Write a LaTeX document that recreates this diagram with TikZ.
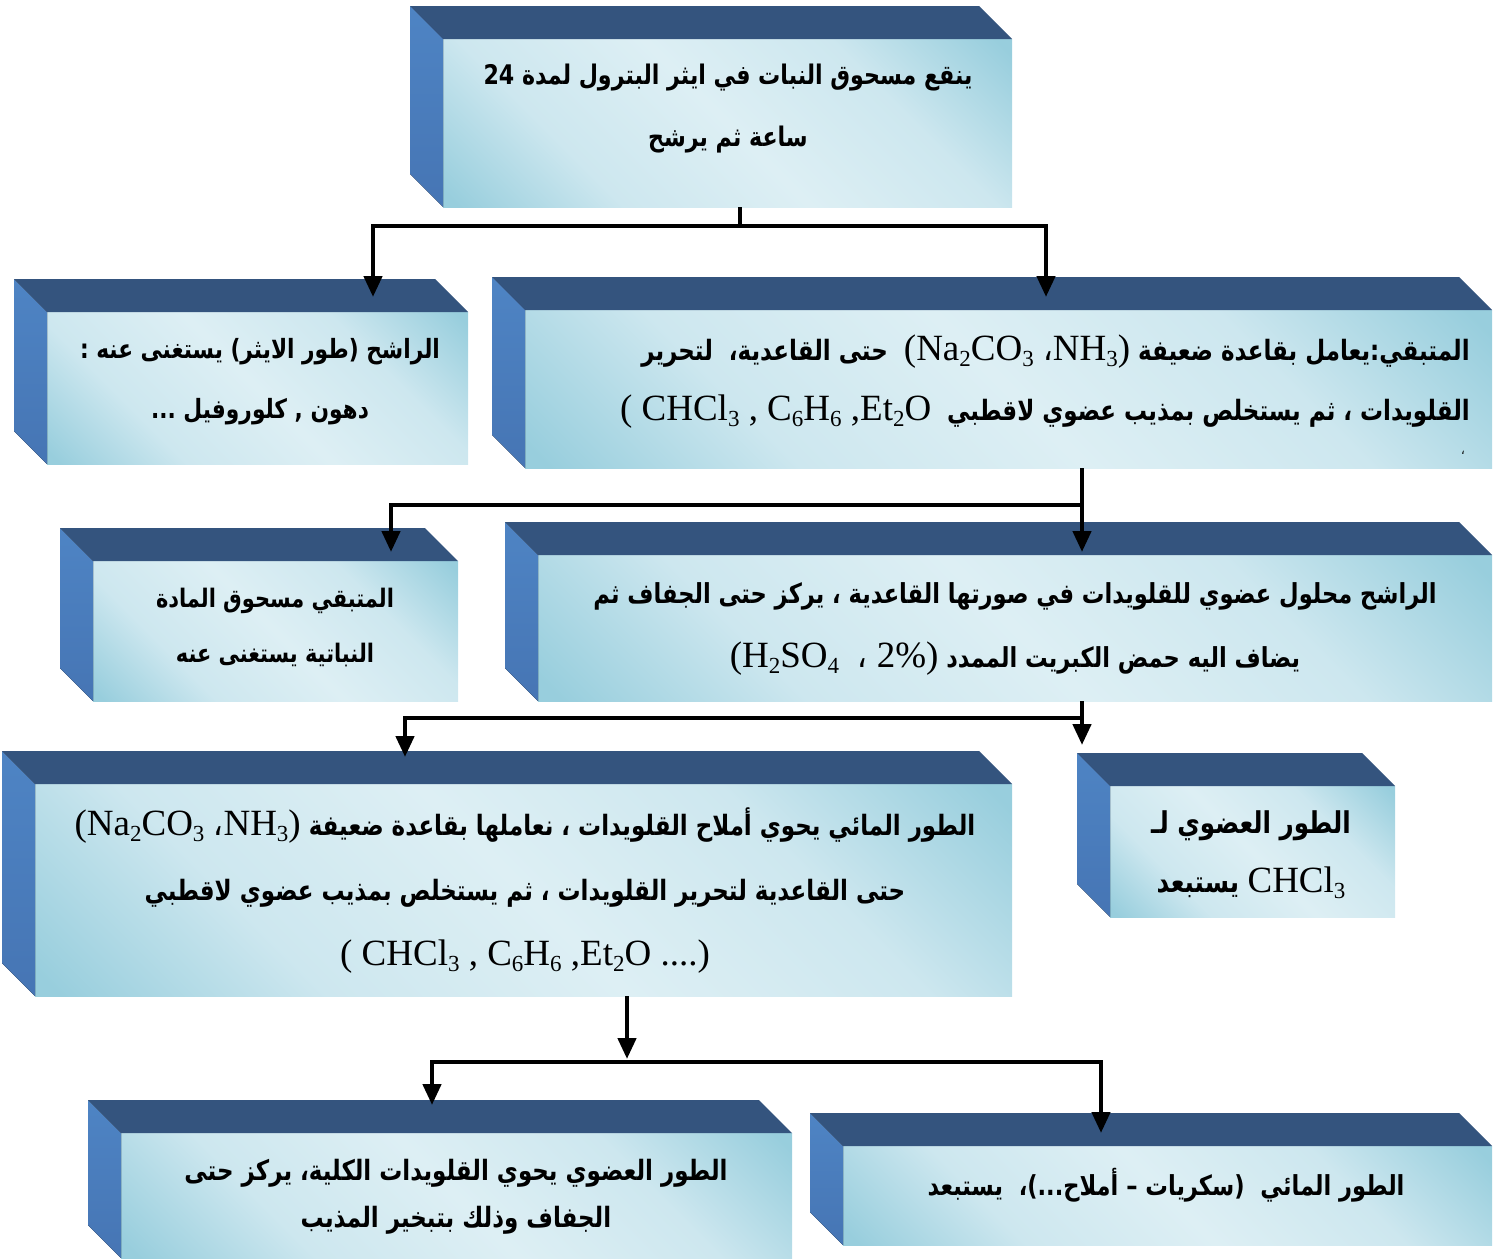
\documentclass[tikz,border=0pt]{standalone}
\usepackage{fontspec}
\usetikzlibrary{calc,arrows.meta}
\TeXXeTstate=1
\newfontfamily\arfont[Script=Arabic, FakeStretch=0.82]{DejaVu Sans}
\newfontfamily\latfont{Liberation Serif}

\definecolor{topface}{HTML}{34547E}
\definecolor{sidetop}{HTML}{4E84C4}
\definecolor{sidebot}{HTML}{4675B4}
\definecolor{frontdeep}{HTML}{98CEDD}
\definecolor{frontmid}{HTML}{CDE7EF}
\definecolor{frontpale}{HTML}{DDEFF4}

% diagonal face gradient: deep corners, pale middle band
\pgfdeclareverticalshading{facegrad}{100bp}{color(0bp)=(frontdeep); color(16bp)=(frontdeep);
  color(32bp)=(frontmid); color(50bp)=(frontpale); color(68bp)=(frontmid);
  color(84bp)=(frontdeep); color(100bp)=(frontdeep)}

% chemical formulas in a Times-like serif
\newcommand\chem[1]{{\latfont\mdseries\fontsize{37}{37}\selectfont #1}}
\newcommand\sbx[1]{\raisebox{-6pt}{\fontsize{23}{23}\selectfont #1}}
\newcommand\acomma{{\arfont ،}}
\newcommand\arsize[2]{\arfont\bfseries\fontsize{#1}{#2}\selectfont}

\tikzset{
  front/.style={rectangle, inner sep=0pt, outer sep=0pt,
    shading=facegrad, shading angle=-45},
  topfill/.style={fill=topface},
  sidefill/.style={top color=sidetop, bottom color=sidebot},
  conn/.style={line width=4.5pt, draw=black},
  arrowconn/.style={conn, -{Triangle[width=18pt,length=21pt]}},
  label/.style={align=center, inner sep=0pt},
}

% a bevelled block: name, x1, y1, x2, y2 of its front face
\newcommand\block[5]{%
  \node[front, minimum width={(#4-#2)*1pt}, minimum height={(#5-#3)*1pt}]
    (#1) at ({(#2+#4)/2},{(#3+#5)/2}) {};
  \fill[topfill] ($(#1.north west)+(-33,-33)$) -- ($(#1.north east)+(-33,-33)$)
    -- (#1.north east) -- (#1.north west) -- cycle;
  \fill[sidefill] ($(#1.north west)+(-33,-33)$) -- (#1.north west)
    -- (#1.south west) -- ($(#1.south west)+(-33,-33)$) -- cycle;
}

\begin{document}
\begin{tikzpicture}[x=1pt,y=-1pt]
\useasboundingbox (0,0) rectangle (1506,1258);

\block{b1}{443}{39}{1012}{207}
\block{b2}{47}{312}{468}{464}
\block{b3}{525}{310}{1492}{468}
\block{b4}{93}{561}{458}{701}
\block{b5}{538}{555}{1492}{701}
\block{b6}{35}{784}{1012}{996}
\block{b7}{1110}{786}{1395}{917}
\block{b8}{121}{1133}{792}{1258}
\block{b9}{843}{1146}{1492}{1245}

% texts
\node[label, font=\arsize{27}{62}] (t1) at (728,109) {\beginR ينقع مسحوق النبات في ايثر البترول لمدة \beginL 24\endL\endR\\
  \beginR ساعة ثم يرشح\endR};
\node[label, font=\arsize{26.5}{60}] (t2) at (260,382) {\beginR الراشح (طور الايثر) يستغنى عنه :\endR\\
  \beginR دهون , كلوروفيل ...\endR};
\node[label, font=\arsize{28}{60}, align=right, anchor=east] (t3) at (1470,382) {\beginR المتبقي:يعامل بقاعدة ضعيفة \beginL\chem{(Na\sbx{2}CO\sbx{3} \acomma NH\sbx{3})}\endL\ \ حتى القاعدية،\ \ لتحرير\endR\\
  \beginR القلويدات ، ثم يستخلص بمذيب عضوي لاقطبي\ \ \beginL\chem{( CHCl\sbx{3} , C\sbx{6}H\sbx{6} ,Et\sbx{2}O}\endL\endR};
\node[label, font={\arfont\fontsize{14}{14}\selectfont}] (t3b) at (1463,453) {،};
\node[label, font=\arsize{25.5}{55}] (t4) at (275,628) {\beginR المتبقي مسحوق المادة\endR\\
  \beginR النباتية يستغنى عنه\endR};
\node[label, font=\arsize{27.5}{64}] (t5) at (1015,629) {\beginR الراشح محلول عضوي للقلويدات في صورتها القاعدية ، يركز حتى الجفاف ثم\endR\\
  \beginR يضاف اليه حمض الكبريت الممدد \beginL\chem{(H\sbx{2}SO\sbx{4}\ \ \acomma\ 2\%)}\endL\endR};
\node[label, font=\arsize{28}{65}] (t6) at (525,891) {\beginR الطور المائي يحوي أملاح القلويدات ، نعاملها بقاعدة ضعيفة \beginL\chem{(Na\sbx{2}CO\sbx{3} \acomma NH\sbx{3})}\endL\endR\\
  \beginR حتى القاعدية لتحرير القلويدات ، ثم يستخلص بمذيب عضوي لاقطبي\endR\\
  \chem{( CHCl\sbx{3} , C\sbx{6}H\sbx{6} ,Et\sbx{2}O ....)}};
\node[label, font=\arsize{30}{59}] (t7) at (1251,855) {\beginR الطور العضوي لـ\endR\\
  \beginR \beginL\chem{CHCl\sbx{3}}\endL\ يستبعد\endR};
\node[label, font=\arsize{28}{47}] (t8) at (456,1197) {\beginR الطور العضوي يحوي القلويدات الكلية، يركز حتى\endR\\
  \beginR الجفاف وذلك بتبخير المذيب\endR};
\node[label, font=\arsize{27.5}{40}] (t9) at (1166,1185) {\beginR الطور المائي\ \ (سكريات – أملاح...)،\ \ يستبعد\endR};

% connectors
\coordinate (jA) at (740,226);
\coordinate (tA2) at (373,297);
\coordinate (tA3) at (1046,297);
\draw[conn] (jA |- b1.south) -- (jA);
\draw[arrowconn] (jA) -| (tA2);
\draw[arrowconn] (jA) -| (tA3);

\coordinate (jB) at (1082,505);
\coordinate (tB4) at (391,552);
\coordinate (tB5) at (1082,552);
\draw[arrowconn] (jB |- b3.south) -- (tB5);
\draw[arrowconn] (jB) -| (tB4);

\coordinate (jC) at (1082,718);
\coordinate (tC6) at (405,757);
\coordinate (tC7) at (1082,745);
\draw[arrowconn] (jC |- b5.south) -- (tC7);
\draw[arrowconn] (jC) -| (tC6);

\coordinate (jD) at (627,1062);
\coordinate (tD8) at (432,1105);
\coordinate (tD9) at (1101,1133);
\draw[arrowconn] (jD |- b6.south) -- ($(jD)+(0,-3)$);
\draw[arrowconn] (jD) -| (tD8);
\draw[arrowconn] (jD) -| (tD9);
\end{tikzpicture}
\end{document}
